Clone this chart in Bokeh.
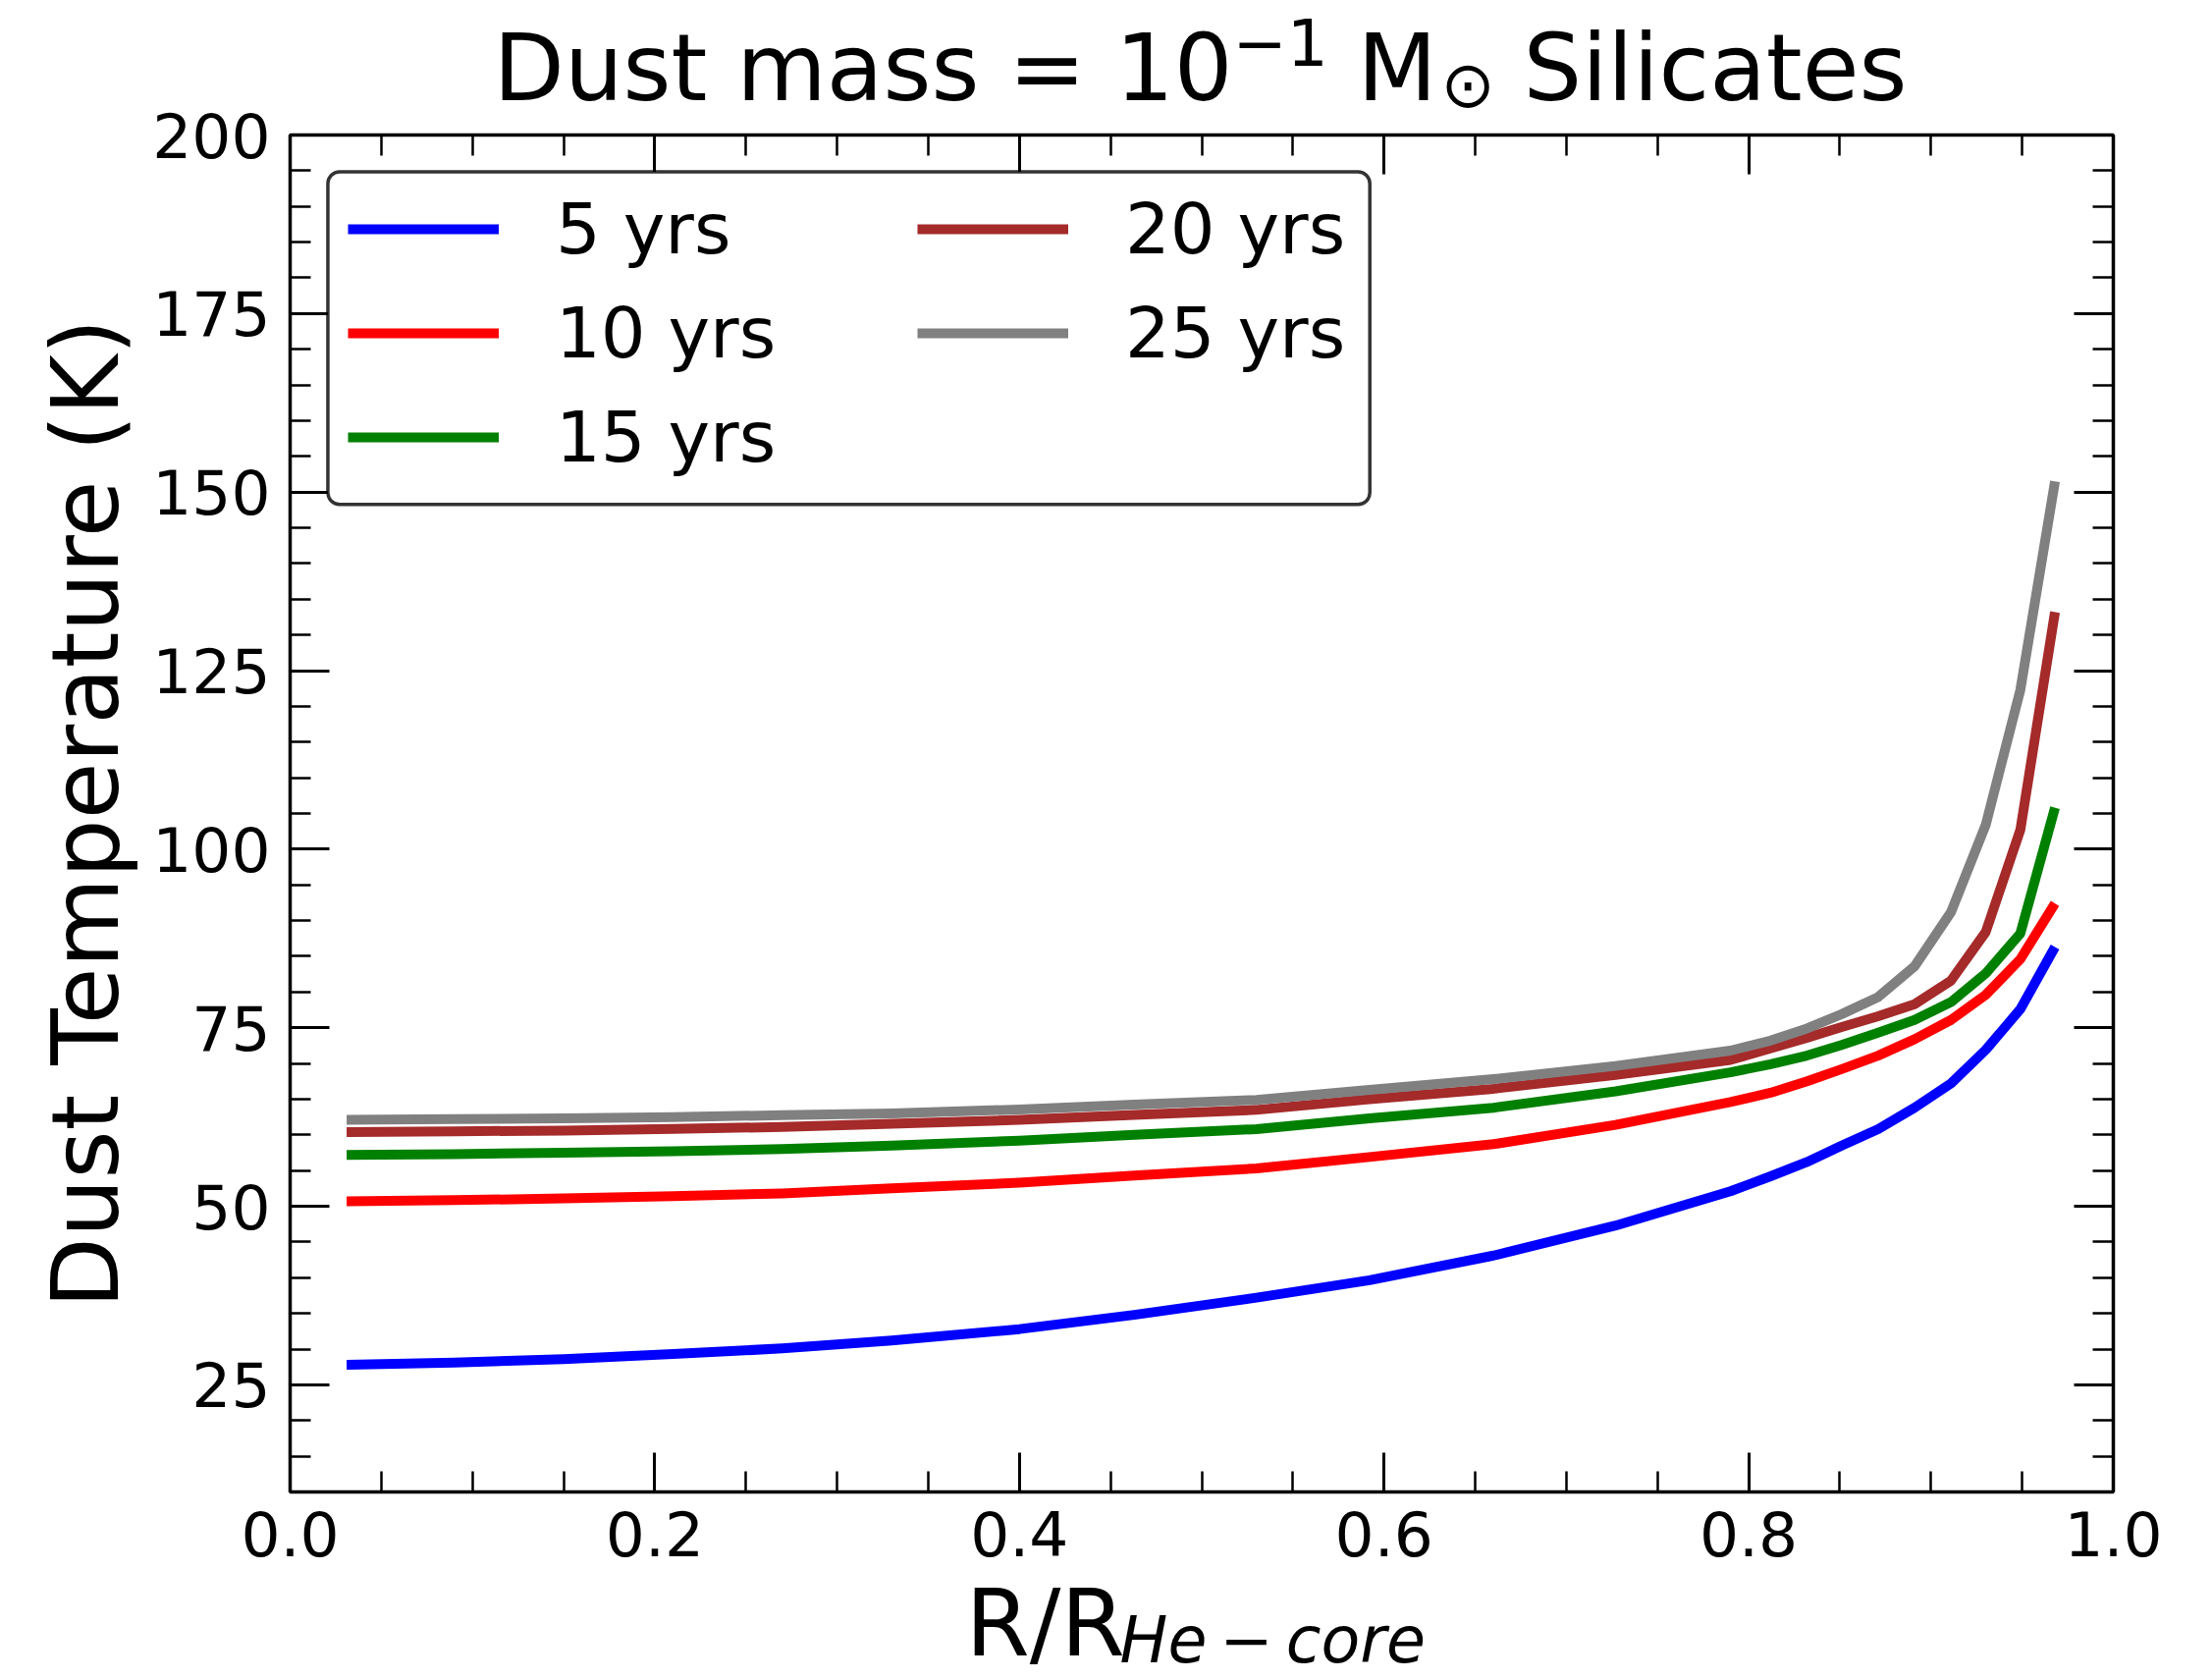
import math
from bokeh.plotting import figure
from bokeh.models import (Range1d, FixedTicker, LinearAxis, Label, Legend,
                          LegendItem, BoxAnnotation, NumeralTickFormatter,
                          CustomLabelingPolicy)
from bokeh.embed import file_html
from bokeh.resources import INLINE

# ---------------- data ----------------
r_frac = [0.031, 0.09, 0.15, 0.21, 0.27, 0.33, 0.40, 0.463, 0.53, 0.592, 0.66,
          0.727, 0.79, 0.812, 0.832, 0.851, 0.871, 0.891, 0.911, 0.930, 0.949, 0.968]

t_5yrs = [27.8, 28.1, 28.6, 29.3, 30.1, 31.2, 32.8, 34.8, 37.2, 39.65, 43.1,
          47.3, 52.1, 54.2, 56.2, 58.5, 60.8, 63.8, 67.2, 71.9, 77.6, 86.3]
t_10yrs = [50.7, 50.85, 51.1, 51.4, 51.8, 52.5, 53.3, 54.3, 55.3, 56.9, 58.7,
           61.4, 64.6, 65.9, 67.5, 69.2, 71.1, 73.4, 76.1, 79.6, 84.6, 92.4]
t_15yrs = [57.2, 57.3, 57.5, 57.7, 58.0, 58.5, 59.2, 60.0, 60.8, 62.3, 63.8,
           66.1, 68.75, 69.9, 71.1, 72.6, 74.3, 76.1, 78.6, 82.6, 88.2, 105.8]
t_20yrs = [60.4, 60.5, 60.6, 60.85, 61.1, 61.55, 62.1, 62.8, 63.5, 65.0, 66.45,
           68.4, 70.5, 72.1, 73.6, 75.1, 76.6, 78.3, 81.6, 88.4, 102.7, 133.2]
t_25yrs = [62.1, 62.2, 62.3, 62.5, 62.75, 63.0, 63.55, 64.25, 64.9, 66.3, 67.8,
           69.65, 71.8, 73.2, 74.9, 76.9, 79.3, 83.6, 91.2, 103.4, 122.3, 151.5]

series_labels = ["5 yrs", "10 yrs", "15 yrs", "20 yrs", "25 yrs"]
series_values = [t_5yrs, t_10yrs, t_15yrs, t_20yrs, t_25yrs]
series_colors = ["#0000ff", "#ff0000", "#008000", "#a52a2a", "#808080"]

x_major = [0.0, 0.2, 0.4, 0.6, 0.8, 1.0]
x_minor = [round(0.05 * i, 2) for i in range(21)]
y_major = [25, 50, 75, 100, 125, 150, 175, 200]
y_minor = list(range(10, 201, 5))

title_main = "Dust mass = 10"
title_sup = "\u22121"
title_m = "M"
title_sun = "\u2299"
title_tail = "Silicates"
xlabel_main = "R/R"
xlabel_sub = "He\u2009\u2212\u2009core"
ylabel = "Dust Temperature (K)"

FONT = "DejaVu Sans"
W, H = 2253, 1710

# ---------------- main figure ----------------
p = figure(width=W, height=H, x_range=Range1d(0, 1), y_range=Range1d(10, 200),
           output_backend="svg", toolbar_location=None, title=None,
           min_border_left=295, min_border_right=101, min_border_top=137,
           min_border_bottom=191)
p.xgrid.visible = False
p.ygrid.visible = False
p.outline_line_color = "black"
p.outline_line_width = 3.5
p.background_fill_color = "white"
p.border_fill_color = "white"

renderers = []
for lab_, vals, col in zip(series_labels, series_values, series_colors):
    r = p.line(r_frac, vals, line_color=col, line_width=10, line_join="round",
               line_cap="butt")
    renderers.append(r)

hide_all = CustomLabelingPolicy(code="""
for (const i of indices) { indices.unset(i) }
return indices
""")


def style_axis(ax, major, minor, show_labels, standoff):
    ax.ticker = FixedTicker(ticks=major, minor_ticks=minor)
    ax.axis_line_color = None
    ax.major_tick_in = 40
    ax.major_tick_out = 0
    ax.minor_tick_in = 21
    ax.minor_tick_out = 0
    ax.major_tick_line_width = 3
    ax.minor_tick_line_width = 2.5
    ax.major_tick_line_color = "black"
    ax.minor_tick_line_color = "black"
    ax.major_label_text_font = FONT
    ax.major_label_text_color = "black"
    ax.major_label_standoff = standoff
    if show_labels:
        ax.major_label_text_font_size = "63px"
    else:
        ax.major_label_text_font_size = "0px"
        ax.major_label_policy = hide_all


xb = p.xaxis[0]
style_axis(xb, x_major, x_minor, True, 19)
xb.formatter = NumeralTickFormatter(format="0.0")
yl = p.yaxis[0]
style_axis(yl, y_major, y_minor, True, 20)

xa = LinearAxis()
style_axis(xa, x_major, x_minor, False, 0)
p.add_layout(xa, "above")
yr = LinearAxis()
style_axis(yr, y_major, y_minor, False, 0)
p.add_layout(yr, "right")

# ---------------- legend ----------------
box = BoxAnnotation(left=0.0207, right=0.5922, top=194.85, bottom=148.26,
                    fill_color="white", fill_alpha=1.0, line_color="black",
                    line_alpha=0.8, line_width=3.5, border_radius=12)
p.add_layout(box)


def make_legend(items, loc):
    return Legend(items=items, location=loc, orientation="vertical",
                  label_text_font=FONT, label_text_font_size="72px",
                  label_text_color="black", glyph_width=154, glyph_height=90,
                  label_height=90, label_standoff=58, spacing=16, padding=10,
                  margin=0, border_line_color=None, background_fill_alpha=0)


items = [LegendItem(label=l, renderers=[r]) for l, r in zip(series_labels, renderers)]
p.add_layout(make_legend(items[:3], (59, 1029)))
p.add_layout(make_legend(items[3:], (639, 1135)))

# ---------------- transparent overlay for title and axis titles ----------------
q = figure(width=W, height=H, x_range=Range1d(0, 1), y_range=Range1d(0, 1),
           output_backend="svg", toolbar_location=None, title=None,
           x_axis_type=None, y_axis_type=None,
           min_border_left=0, min_border_right=0, min_border_top=0,
           min_border_bottom=0)
q.xgrid.visible = False
q.ygrid.visible = False
q.outline_line_color = None
q.background_fill_color = None
q.border_fill_color = None
q.styles = {"position": "absolute", "left": "0px", "top": "0px"}


def lab(text, x, y, size, align="left", style="normal", angle=0.0):
    return Label(x=x, y=y, x_units="screen", y_units="screen", text=text,
                 text_font=FONT, text_font_size=size, text_align=align,
                 text_baseline="alphabetic", text_color="black",
                 text_font_style=style, angle=angle)


# positions are canvas pixels: x from left, y from bottom
q.add_layout(lab(title_main, 1255, H - 69, "94px", align="right"))
q.add_layout(lab(title_sup, 1255, H - 42, "66px"))
q.add_layout(lab(title_m, 1382, H - 69, "94px"))
q.add_layout(lab(title_sun, 1467, H - 86, "66px"))
q.add_layout(lab(title_tail, 1551, H - 69, "94px"))

q.add_layout(lab(xlabel_main, 983, H - 1653, "94px"))
q.add_layout(lab(xlabel_sub, 1140, H - 1670, "65px", style="italic"))

q.add_layout(lab(ylabel, 87, H - 828, "94px", align="center", angle=math.pi / 2))

open("out.html", "w").write(file_html([p, q], INLINE))
